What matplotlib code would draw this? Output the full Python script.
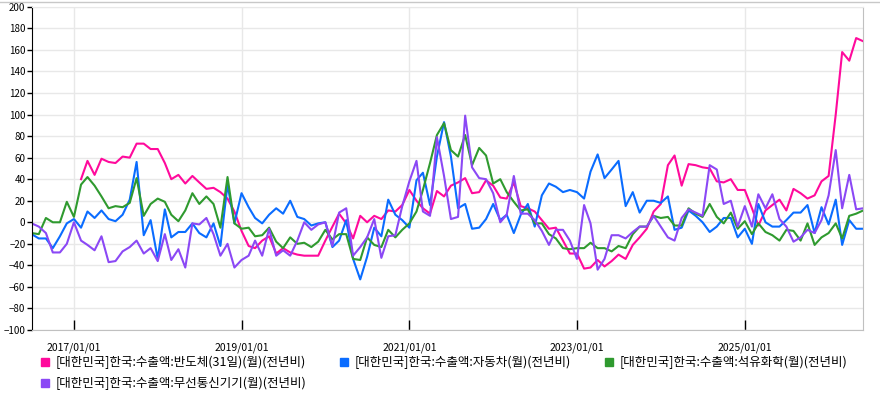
import numpy as np
import pandas as pd
import matplotlib
matplotlib.use('Agg')
import matplotlib.pyplot as plt
import matplotlib.dates as mdates
from matplotlib.lines import Line2D

plt.rcParams['font.family'] = ['Noto Sans CJK KR', 'DejaVu Sans']

# monthly, 2016/07 .. 2026/06
months = pd.date_range('2016-07-01', periods=120, freq='MS')

semi = [np.nan] * 7 + [
    40, 57, 44, 59, 56, 55, 61, 60, 73, 73, 68, 68, 55, 40, 44, 36, 43, 37, 31, 32,
    28, 22, 10, -8, -22, -24, -17, -13, -29, -24, -28, -30, -31, -31, -31, -17, -4, 8, -1, -15,
    6, 0, 6, 3, 11, 10, 16, 30, 20, 13, 8, 29, 24, 34, 37, 41, 27, 28, 39, 34,
    23, 22, 37, 15, 13, 10, 2, -6, -5, -17, -29, -29, -43, -42, -35, -41, -36, -30, -34, -21,
    -14, -6, 10, 17, 53, 62, 34, 54, 53, 51, 50, 38, 37, 40, 30, 30, 13, -3, 11, 16,
    21, 11, 31, 27, 22, 25, 38, 43, 100, 158, 150, 171, 168]

cars = [
    -11, -15, -15, -24, -13, -1, 3, -5, 10, 4, 11, 3, 1, 7, 21, 56, -12, 2, -34, 12,
    -14, -9, -9, -1, -10, -14, -1, -22, 35, -1, 27, 14, 4, -1, 7, 13, 8, 20, 5, 3,
    -3, -1, 0, -23, -17, 2, -34, -53, -32, -5, -13, 21, 7, 2, -5, 39, 46, 16, 61, 93,
    61, 13, 17, -6, -5, 3, 17, 2, 7, -10, 7, 17, -4, 25, 36, 33, 28, 30, 28, 22,
    47, 63, 41, 49, 57, 15, 28, 9, 20, 20, 18, 24, -7, -5, 11, 6, 0, -9, -4, 4,
    4, -14, -6, -20, 17, 0, -4, -4, 2, 9, 9, 16, -10, 14, -2, 21, -21, 2, -6, -6]

petro = [
    -10, -11, 4, 0, 0, 19, 5, 35, 42, 34, 24, 13, 15, 14, 18, 41, 6, 17, 22, 19,
    7, 1, 11, 27, 17, 24, 17, -5, 42, -1, -6, -5, -13, -12, -5, -18, -24, -14, -20, -19,
    -23, -18, -7, -16, -11, -11, -34, -35, -14, -21, -23, -7, -14, -7, -1, 10, 30, 55, 81, 92,
    67, 61, 81, 53, 69, 62, 36, 40, 28, 19, 11, 12, -1, -1, -11, -15, -24, -25, -24, -24,
    -19, -24, -24, -27, -22, -24, -11, -4, -4, 6, 4, 5, -3, -3, 13, 8, 5, 17, 5, -1,
    9, -6, 1, -11, -1, -9, -12, -17, -7, -8, -17, -1, -21, -14, -10, -1, -15, 6, 8, 11]

wireless = [
    -1, -4, -10, -28, -28, -20, 0, -17, -21, -26, -13, -37, -36, -27, -23, -17, -29, -24, -36, -11,
    -35, -25, -42, -1, -2, 4, -11, -31, -20, -42, -35, -31, -17, -31, -6, -31, -26, -31, -17, 0,
    -7, -2, 0, -22, 9, 13, -31, -23, -14, 3, -33, -13, -12, 15, 38, 57, 10, 6, 79, 43,
    3, 5, 99, 51, 41, 40, 27, 0, 7, 43, 8, 8, 2, -8, -21, -7, -7, -17, -34, 16,
    -1, -44, -34, -12, -12, -15, -9, -4, -4, 6, -4, -14, -17, 4, 12, 9, 6, 53, 49, 17,
    20, -4, 15, -4, 26, 13, 26, 3, -4, -18, -14, -7, -10, 2, 25, 67, 13, 44, 12, 13]

labels = ['[대한민국]한국:수출액:반도체(31일)(월)(전년비)',
          '[대한민국]한국:수출액:자동차(월)(전년비)',
          '[대한민국]한국:수출액:석유화학(월)(전년비)',
          '[대한민국]한국:수출액:무선통신기기(월)(전년비)']
colors = ['#ff0a9c', '#0a6cff', '#2f9a2f', '#8b48f5']
tick_dates = pd.to_datetime(['2017-01-01', '2019-01-01', '2021-01-01', '2023-01-01', '2025-01-01'])

fig = plt.figure(figsize=(8.8, 4.01), dpi=100)
ax = fig.add_axes([0.036, 0.177, 0.945, 0.806])

for vals, c in zip([semi, cars, petro, wireless], colors):
    ax.plot(months, vals, color=c, lw=1.5)

ax.set_xlim(months[0], months[-1])
ax.set_ylim(-100, 200)
ax.set_yticks(np.arange(-100, 201, 20))
ax.set_xticks(tick_dates)
ax.xaxis.set_major_formatter(mdates.DateFormatter('%Y/%m/%d'))
ax.grid(True, color='#e8e8e8', lw=1)
ax.set_axisbelow(True)

ax.tick_params(axis='y', direction='out', length=3.5, width=1, labelsize=7, pad=1)
ax.tick_params(axis='x', direction='in', length=7, width=1, labelsize=7.5, pad=9)
ax.spines['left'].set_color('black')
for s in ['bottom', 'right']:
    ax.spines[s].set_color('#c0c0c0')
ax.spines['top'].set_color('#e8e8e8')

fig.add_artist(Line2D([0, 1], [0.996, 0.996], transform=fig.transFigure, color='#c8c8c8', lw=1))

handles = [Line2D([], [], marker='s', ls='none', color=c, markersize=6) for c in colors]
order = [0, 3, 1, 2]
fig.legend([handles[k] for k in order], [labels[k] for k in order],
           ncol=3, loc='upper left', bbox_to_anchor=(0.046, 0.113),
           frameon=False, fontsize=9, handlelength=0.8, handletextpad=0.45,
           columnspacing=2.6, labelspacing=0.65, borderaxespad=0, borderpad=0)

fig.savefig('out.png', dpi=100)
